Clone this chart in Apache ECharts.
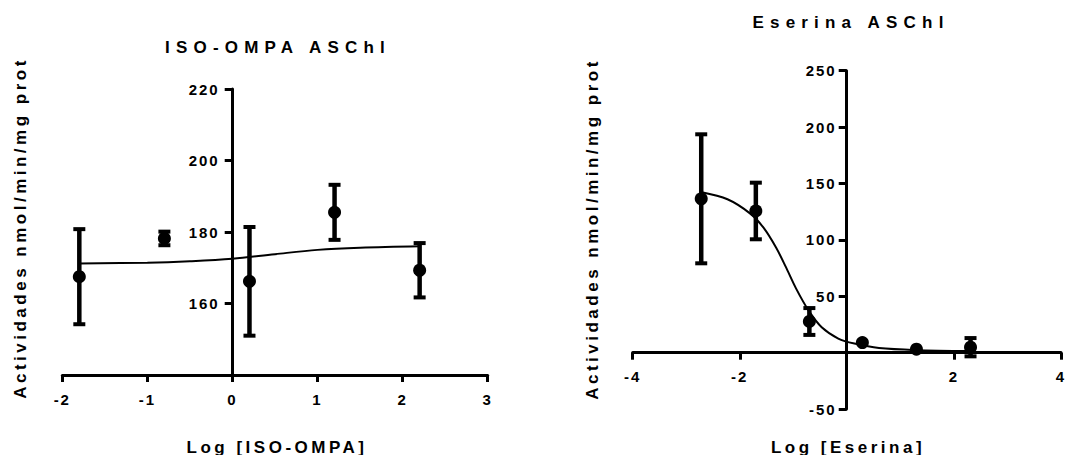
<!DOCTYPE html>
<html><head><meta charset="utf-8">
<script src="https://cdn.jsdelivr.net/npm/echarts@6/dist/echarts.min.js"></script>
<style>html,body{margin:0;padding:0;background:#fff}#c{width:1078px;height:455px}</style>
</head><body><div id="c"></div>
<script>
// ---- Left panel: ISO-OMPA ----
const isoTitle = 'ISO-OMPA ASChl';
const isoXName = 'Log [ISO-OMPA]';
const isoX = [-1.8, -0.8, 0.2, 1.2, 2.2];
const isoMean = [167.5, 178.2, 166.2, 185.5, 169.3];
const isoErr = [13.3, 1.9, 15.2, 7.7, 7.6];
const isoFitX = [-1.8, -1.0, -0.5, 0.0, 0.5, 1.0, 1.5, 2.2];
const isoFitY = [171.2, 171.4, 171.8, 172.5, 173.8, 175.0, 175.6, 176.0];
const isoYTicks = [160, 180, 200, 220];

// ---- Right panel: Eserina ----
const eseTitle = 'Eserina ASChl';
const eseXName = 'Log [Eserina]';
const eseX = [-2.72, -1.70, -0.70, 0.29, 1.30, 2.31];
const eseMean = [136.4, 125.6, 27.6, 8.9, 3.0, 4.8];
const eseErr = [57.2, 25.1, 11.9, 0, 0, 8.1];
const eseFitX = [-2.73, -2.23, -1.81, -1.56, -1.32, -1.14, -0.95, -0.71, -0.47, -0.16, 0.14, 0.6, 1.3, 2.31];
const eseFitY = [142.4, 136.0, 123.5, 111.0, 93.0, 76.0, 57.0, 37.0, 22.5, 12.5, 8.0, 4.0, 2.2, 1.5];
const eseXTicks = [-4, -2, 2, 4];
const eseYTicks = [-50, 50, 100, 150, 200, 250];

const yName = 'Actividades nmol/min/mg prot';

const FF = '"Liberation Sans", Arial, sans-serif';
const BLACK = '#000';

function zip(a, b) { return a.map((v, i) => [v, b[i]]); }

function errSeries(idx, xs, means, errs) {
  const data = [];
  xs.forEach((x, k) => { if (errs[k] > 0) data.push([x, means[k] - errs[k], means[k] + errs[k]]); });
  return {
    type: 'custom', xAxisIndex: idx, yAxisIndex: idx, data: data, z: 3,
    renderItem: function (params, api) {
      const lo = api.coord([api.value(0), api.value(1)]);
      const hi = api.coord([api.value(0), api.value(2)]);
      const w = 6;
      return {
        type: 'group', children: [
          { type: 'line', shape: { x1: lo[0], y1: lo[1], x2: hi[0], y2: hi[1] }, style: { stroke: BLACK, lineWidth: 4.5 } },
          { type: 'line', shape: { x1: hi[0] - w, y1: hi[1], x2: hi[0] + w, y2: hi[1] }, style: { stroke: BLACK, lineWidth: 4 } },
          { type: 'line', shape: { x1: lo[0] - w, y1: lo[1], x2: lo[0] + w, y2: lo[1] }, style: { stroke: BLACK, lineWidth: 4 } }
        ]
      };
    }
  };
}

const tickLabel = { color: BLACK, fontSize: 15, fontWeight: 'bold', fontFamily: FF };
const axisLineStyle = { color: BLACK, width: 3 };

function txt(x, y, text, rot) {
  const o = { type: 'text', x: x, y: y, style: { text: text, font: 'bold 17px ' + FF, fill: BLACK,
    align: 'center', verticalAlign: 'middle', textAlign: 'center', textVerticalAlign: 'middle' } };
  if (rot) o.rotation = rot;
  return o;
}

const option = {
  animation: false,
  backgroundColor: '#fff',
  grid: [
    { left: 62.3, right: 590.3, top: 89, bottom: 80, containLabel: false, outerBoundsMode: 'none' },
    { left: 632.7, right: 17, top: 70.7, bottom: 46, containLabel: false, outerBoundsMode: 'none' }
  ],
  xAxis: [
    { gridIndex: 0, type: 'value', position: 'bottom', min: -2, max: 3, interval: 1,
      axisLine: { onZero: false, lineStyle: axisLineStyle },
      axisTick: { length: 7, lineStyle: { color: BLACK, width: 3 } },
      axisLabel: Object.assign({ margin: 17 }, tickLabel),
      splitLine: { show: false } },
    { gridIndex: 1, type: 'value', position: 'bottom', offset: -56.3, min: -4, max: 4, interval: 2,
      axisLine: { onZero: false, lineStyle: axisLineStyle },
      axisTick: { length: 7, customValues: eseXTicks, lineStyle: { color: BLACK, width: 3 } },
      axisLabel: Object.assign({ margin: 16, customValues: eseXTicks }, tickLabel),
      splitLine: { show: false } }
  ],
  yAxis: [
    { gridIndex: 0, type: 'value', position: 'left', offset: -170.4, min: 140, max: 220, interval: 20,
      axisLine: { show: true, onZero: false, lineStyle: axisLineStyle },
      axisTick: { show: true, length: 8, customValues: isoYTicks, lineStyle: { color: BLACK, width: 3 } },
      axisLabel: Object.assign({ margin: 13, customValues: isoYTicks }, tickLabel),
      splitLine: { show: false } },
    { gridIndex: 1, type: 'value', position: 'left', offset: -214, min: -50, max: 250, interval: 50,
      axisLine: { show: true, onZero: false, lineStyle: axisLineStyle },
      axisTick: { show: true, length: 8, customValues: eseYTicks, lineStyle: { color: BLACK, width: 3 } },
      axisLabel: Object.assign({ margin: 10, customValues: eseYTicks }, tickLabel),
      splitLine: { show: false } }
  ],
  graphic: [
    txt(278, 47, isoTitle),
    txt(851, 22, eseTitle),
    txt(277, 447, isoXName),
    txt(848, 447, eseXName),
    txt(20, 228, yName, Math.PI / 2),
    txt(592, 229, yName, Math.PI / 2)
  ],
  series: [
    { type: 'line', xAxisIndex: 0, yAxisIndex: 0, data: zip(isoFitX, isoFitY), smooth: 0.35, showSymbol: false, symbol: 'none',
      lineStyle: { color: BLACK, width: 2 }, z: 2 },
    errSeries(0, isoX, isoMean, isoErr),
    { type: 'scatter', xAxisIndex: 0, yAxisIndex: 0, data: zip(isoX, isoMean), symbol: 'circle', symbolSize: 13,
      itemStyle: { color: BLACK, opacity: 1 }, z: 4 },
    { type: 'line', xAxisIndex: 1, yAxisIndex: 1, data: zip(eseFitX, eseFitY), smooth: 0.3, showSymbol: false, symbol: 'none',
      lineStyle: { color: BLACK, width: 2 }, z: 2 },
    errSeries(1, eseX, eseMean, eseErr),
    { type: 'scatter', xAxisIndex: 1, yAxisIndex: 1, data: zip(eseX, eseMean), symbol: 'circle', symbolSize: 13,
      itemStyle: { color: BLACK, opacity: 1 }, z: 4 }
  ]
};

const chart = echarts.init(document.getElementById('c'), null, { renderer: 'svg' });
chart.setOption(option);

const TITLES = [isoTitle, eseTitle];
const NAMES = [isoXName, eseXName, yName];
function applySpacing() {
  chart.getDom().querySelectorAll('text').forEach(function (t) {
    const s = t.textContent;
    let sp = 2;
    if (TITLES.indexOf(s) >= 0) sp = 6.2;
    else if (NAMES.indexOf(s) >= 0) sp = 3.5;
    t.style.letterSpacing = sp + 'px';
  });
}
applySpacing();
chart.on('finished', applySpacing);
</script>
</body></html>
